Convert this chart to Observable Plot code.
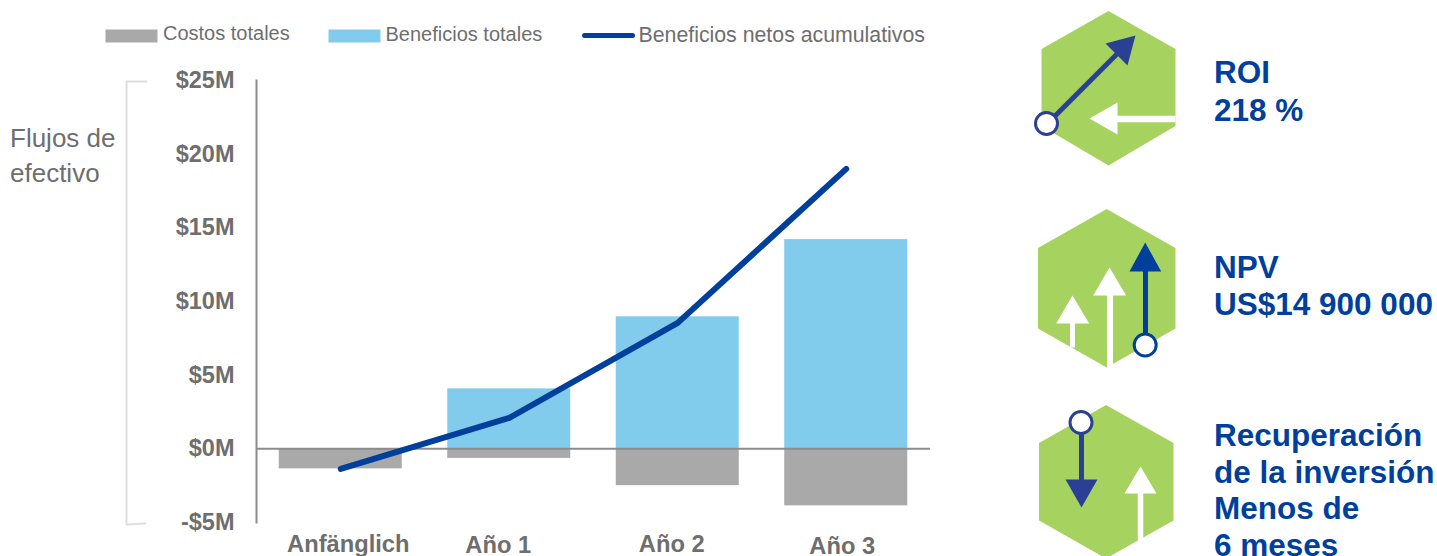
<!DOCTYPE html>
<html lang="es">
<head>
<meta charset="utf-8">
<script src="https://cdn.jsdelivr.net/npm/d3@7"></script>
<script src="https://cdn.jsdelivr.net/npm/@observablehq/plot@0.6"></script>
<style>
html,body{margin:0;padding:0;background:#fff;overflow:hidden;width:1437px;height:556px}
#wrap{position:relative;width:1437px;height:556px;overflow:hidden}
#wrap svg{position:absolute;left:0;top:0;background:transparent}
</style>
</head>
<body>
<div id="wrap"></div>
<script>
const categories = ["Anfänglich", "Año 1", "Año 2", "Año 3"];
const costs = [-1.36, -0.65, -2.5, -3.87];
const benefits = [0, 4.07, 8.96, 14.2];
const netCumulative = [-1.36, 2.1, 8.55, 19.0];
const yTicks = [-5, 0, 5, 10, 15, 20, 25];
const legendLabels = ["Costos totales", "Beneficios totales", "Beneficios netos acumulativos"];
const yTitle = ["Flujos de", "efectivo"];
const kpiLines = ["ROI", "218 %", "NPV", "US$14 900 000", "Recuperación", "de la inversión", "Menos de", "6 meses"];

const FONT = "'Liberation Sans', Arial, sans-serif";
const GRAY = "#a9a9a9", BLUE = "#81ccec", NAVY = "#003f9c", INDIGO = "#2b4095",
      AXIS = "#8c8c8c", TEXT = "#6e6e6e", GREEN = "#a6d360";

const costRows = categories.map((c, i) => ({c, v: costs[i]}));
const benefitRows = categories.map((c, i) => ({c, v: benefits[i]})).filter(d => d.v > 0);
const lineRows = categories.map((c, i) => ({c, v: netCumulative[i]}));

// Axis labels in the reference are not centred on their bars
const labelDx = [7.5, -11, -6, -4];
const labelDy = [22, 23, 22, 24];

const chart = Plot.plot({
  width: 1437, height: 556,
  marginLeft: 256, marginRight: 507, marginTop: 80, marginBottom: 34,
  style: {fontFamily: FONT, background: "transparent"},
  x: {domain: categories, paddingInner: 0.27, paddingOuter: 0.135, align: 0.5, round: false, axis: null},
  y: {domain: [-5, 25], axis: null},
  marks: [
    Plot.barY(costRows, {x: "c", y: "v", fill: GRAY}),
    Plot.barY(benefitRows, {x: "c", y: "v", fill: BLUE}),
    Plot.ruleY([0], {stroke: AXIS, strokeWidth: 2}),
    Plot.frame({anchor: "left", stroke: AXIS, strokeWidth: 2}),
    Plot.axisY({
      ticks: yTicks, tickSize: 0, tickPadding: 22, label: null,
      tickFormat: d => d < 0 ? `-$${-d}M` : `$${d}M`,
      fontSize: 23.5, fontWeight: "bold", fill: TEXT
    }),
    Plot.line(lineRows, {x: "c", y: "v", stroke: NAVY, strokeWidth: 6, strokeLinecap: "round", strokeLinejoin: "round"}),
    ...categories.map((c, i) => Plot.text([c], {
      x: d => d, frameAnchor: "bottom", dx: labelDx[i], dy: labelDy[i],
      fontSize: 23.7, fontWeight: "bold", fill: TEXT, lineAnchor: "middle"
    }))
  ]
});

// Decoration layer: legend, bracket, side title, hexagon icons, KPI text.
const poly = (pts, fill) => Plot.line(pts, {x: d => d[0], y: d => d[1], fill, stroke: "none"});
const seg = (a, b, stroke, w) => Plot.link([[a, b]], {
  x1: d => d[0][0], y1: d => d[0][1], x2: d => d[1][0], y2: d => d[1][1],
  stroke, strokeWidth: w
});
const ring = (x, y, r, stroke) => Plot.dot([[x, y]], {
  x: d => d[0], y: d => d[1], r, fill: "#fff", stroke, strokeWidth: 3
});
const label = (t, x, y, size, fill, weight) => Plot.text([t], {
  x: () => x, y: () => y, text: d => d, textAnchor: "start", lineAnchor: "middle",
  fontSize: size, fontWeight: weight, fill
});

const overlay = Plot.plot({
  width: 1437, height: 556, margin: 0,
  style: {fontFamily: FONT, background: "transparent"},
  x: {domain: [0, 1437], range: [0, 1437], axis: null},
  y: {domain: [0, 556], range: [0, 556], axis: null},
  marks: [
    // legend
    poly([[105, 29], [157, 29], [157, 42], [105, 42]], GRAY),
    poly([[328, 29], [380, 29], [380, 42], [328, 42]], BLUE),
    Plot.line([[584, 35], [632, 35]], {x: d => d[0], y: d => d[1], stroke: NAVY, strokeWidth: 5, strokeLinecap: "round"}),
    label(legendLabels[0], 162.5, 33, 20, TEXT, "normal"),
    label(legendLabels[1], 385, 34, 20, TEXT, "normal"),
    label(legendLabels[2], 638, 34.5, 21.3, TEXT, "normal"),
    // bracket and side title
    Plot.line([[146, 81], [126, 81], [126, 524], [145, 523]], {x: d => d[0], y: d => d[1], stroke: "#dedede", strokeWidth: 2}),
    label(yTitle[0], 9.5, 138, 26, TEXT, "normal"),
    label(yTitle[1], 9.5, 173, 26, TEXT, "normal"),

    // icon 1
    poly([[1108, 10.5], [1175, 48.5], [1175, 125.5], [1108, 165], [1041, 125.5], [1041, 48.5]], GREEN),
    seg([1175, 118.5], [1115, 118.5], "#fff", 6.5),
    poly([[1089, 118], [1117, 102], [1117, 134]], "#fff"),
    seg([1047, 123], [1117, 53], INDIGO, 5),
    poly([[1135, 35], [1105, 43], [1127, 65]], INDIGO),
    ring(1046, 123, 11, INDIGO),

    // icon 2
    poly([[1106.2, 208.5], [1175, 247.5], [1175, 328], [1106.2, 367], [1037.5, 328], [1037.5, 247.5]], GREEN),
    seg([1072, 320], [1072, 347], "#fff", 5),
    poly([[1072, 295], [1055.7, 323], [1088.7, 323]], "#fff"),
    seg([1109.5, 293], [1109.5, 367], "#fff", 6),
    poly([[1109, 267], [1092.7, 295], [1125.7, 295]], "#fff"),
    seg([1145, 270], [1145, 340], NAVY, 5),
    poly([[1144.7, 242], [1129, 271], [1160.7, 271]], NAVY),
    ring(1144.7, 344.5, 11, NAVY),

    // icon 3
    poly([[1105.5, 404.5], [1173, 442.5], [1173, 520], [1105.5, 558], [1038.5, 520], [1038.5, 442.5]], GREEN),
    seg([1140, 491], [1140, 540], "#fff", 5.5),
    poly([[1140, 466], [1124, 493], [1156, 493]], "#fff"),
    seg([1081, 425], [1081, 481], INDIGO, 5),
    poly([[1081, 507], [1065, 479], [1097, 479]], INDIGO),
    ring(1080.5, 422, 11, INDIGO),

    // KPI text
    label(kpiLines[0], 1213.5, 72, 31.5, NAVY, "bold"),
    label(kpiLines[1], 1213.5, 110.5, 31.5, NAVY, "bold"),
    label(kpiLines[2], 1213.5, 267, 31.5, NAVY, "bold"),
    label(kpiLines[3], 1213.5, 304.5, 31.5, NAVY, "bold"),
    label(kpiLines[4], 1213.5, 435, 31.5, NAVY, "bold"),
    label(kpiLines[5], 1213.5, 472, 31.5, NAVY, "bold"),
    label(kpiLines[6], 1213.5, 508.5, 31.5, NAVY, "bold"),
    label(kpiLines[7], 1213.5, 545.5, 31.5, NAVY, "bold")
  ]
});

const wrap = document.getElementById("wrap");
wrap.appendChild(chart);
wrap.appendChild(overlay);
</script>
</body>
</html>
